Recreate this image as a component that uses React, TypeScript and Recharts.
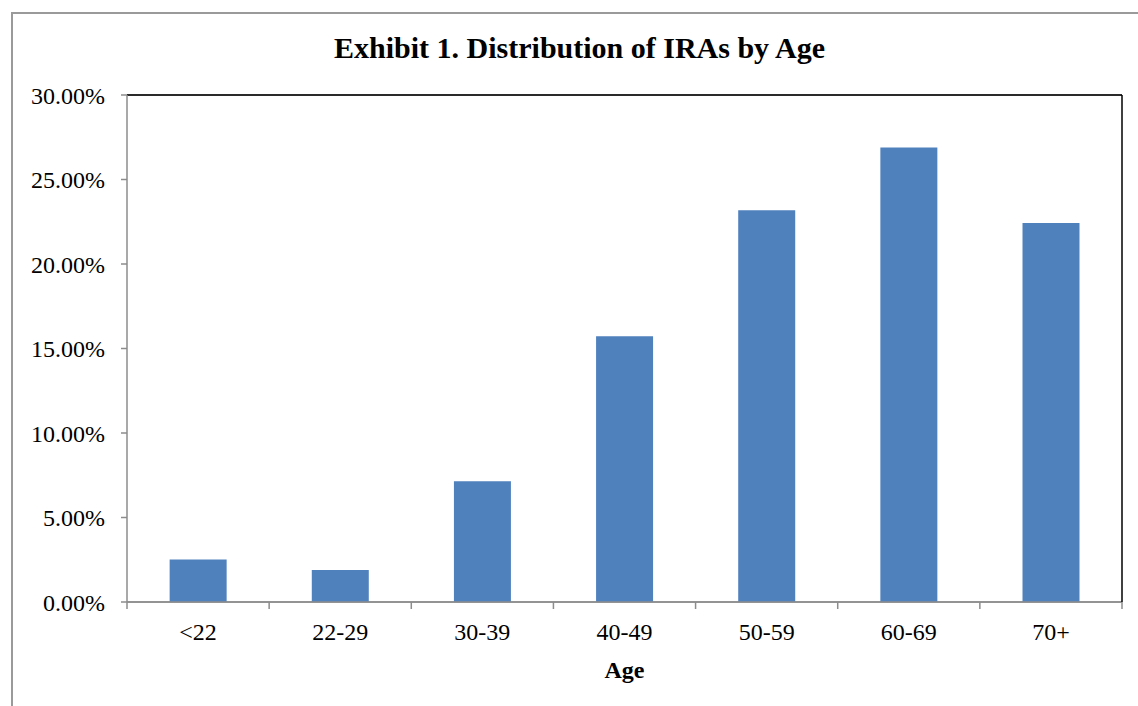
import React from 'react';
import { BarChart, Bar, XAxis, YAxis, CartesianGrid, ReferenceLine } from 'recharts';

const categories = ['<22', '22-29', '30-39', '40-49', '50-59', '60-69', '70+'];
const shares = [2.51, 1.89, 7.14, 15.72, 23.18, 26.9, 22.43];
const yTicks = [0, 5, 10, 15, 20, 25, 30];

const data = categories.map((c, i) => ({ age: c, share: shares[i] }));

const FONT = '"Liberation Serif", "Times New Roman", serif';
const GRAY = '#8c8c8c';
const X_TICK_SIZE = 7;
const X_TICK_MARGIN = 14;

const XTick = (props: any) => {
  const { x, y, payload, index } = props;
  const half = payload && payload.offset ? payload.offset : 0;
  const axisY = y - X_TICK_SIZE - X_TICK_MARGIN;
  const isLast = index === categories.length - 1;
  return (
    <g>
      <line x1={x - half} x2={x - half} y1={axisY} y2={axisY + X_TICK_SIZE} stroke={GRAY} strokeWidth={1.5} />
      {isLast && (
        <line x1={x + half} x2={x + half} y1={axisY} y2={axisY + X_TICK_SIZE} stroke={GRAY} strokeWidth={1.5} />
      )}
      <text x={x} y={y} dy="0.71em" textAnchor="middle" fill="#000" fontSize={24} fontFamily={FONT}>
        {payload.value}
      </text>
    </g>
  );
};

export default function App() {
  return (
    <div style={{ position: 'absolute', left: 0, top: 0, width: 1138, height: 706, overflow: 'hidden', background: '#fff' }}>
      <div
        style={{
          position: 'absolute',
          left: 11,
          top: 12,
          width: 1180,
          height: 760,
          border: `2px solid #9a9a9a`,
          boxSizing: 'border-box',
        }}
      />
      <div
        style={{
          position: 'absolute',
          left: 0,
          top: 33,
          width: 1159,
          textAlign: 'center',
          fontFamily: FONT,
          fontWeight: 'bold',
          fontSize: 30,
          lineHeight: '30px',
          color: '#000',
          whiteSpace: 'nowrap',
        }}
      >
        Exhibit 1. Distribution of IRAs by Age
      </div>
      <div style={{ position: 'absolute', left: 0, top: 0 }}>
        <BarChart
          width={1138}
          height={706}
          data={data}
          margin={{ top: 95, right: 15, left: 27, bottom: 34 }}
          barCategoryGap="30%"
        >
          <CartesianGrid horizontal vertical={false} stroke={GRAY} strokeWidth={1.5} />
          <XAxis
            dataKey="age"
            type="category"
            height={70}
            tickSize={X_TICK_SIZE}
            tickMargin={X_TICK_MARGIN}
            tickLine={false}
            axisLine={{ stroke: GRAY, strokeWidth: 1.5 }}
            tick={<XTick />}
            interval={0}
            label={{
              value: 'Age',
              position: 'insideBottom',
              offset: -6,
              fill: '#000',
              fontSize: 24,
              fontWeight: 'bold',
              fontFamily: FONT,
            }}
          />
          <YAxis
            yAxisId="left"
            type="number"
            domain={[0, 30]}
            ticks={yTicks}
            interval={0}
            width={100}
            tickSize={6}
            tickMargin={16}
            tickLine={{ stroke: GRAY, strokeWidth: 1.5 }}
            axisLine={{ stroke: GRAY, strokeWidth: 1.5 }}
            tickFormatter={(v: number) => `${v.toFixed(2)}%`}
            tick={{ fill: '#000', fontSize: 24, fontFamily: FONT }}
          />
          <YAxis
            yAxisId="right"
            orientation="right"
            type="number"
            domain={[0, 30]}
            ticks={yTicks}
            width={1}
            tick={false}
            tickLine={false}
            axisLine={{ stroke: '#000', strokeWidth: 1.5 }}
          />
          <ReferenceLine yAxisId="left" y={30} stroke="#000" strokeWidth={1.5} />
          <Bar yAxisId="left" dataKey="share" fill="#4f81bd" isAnimationActive={false} />
        </BarChart>
      </div>
    </div>
  );
}
